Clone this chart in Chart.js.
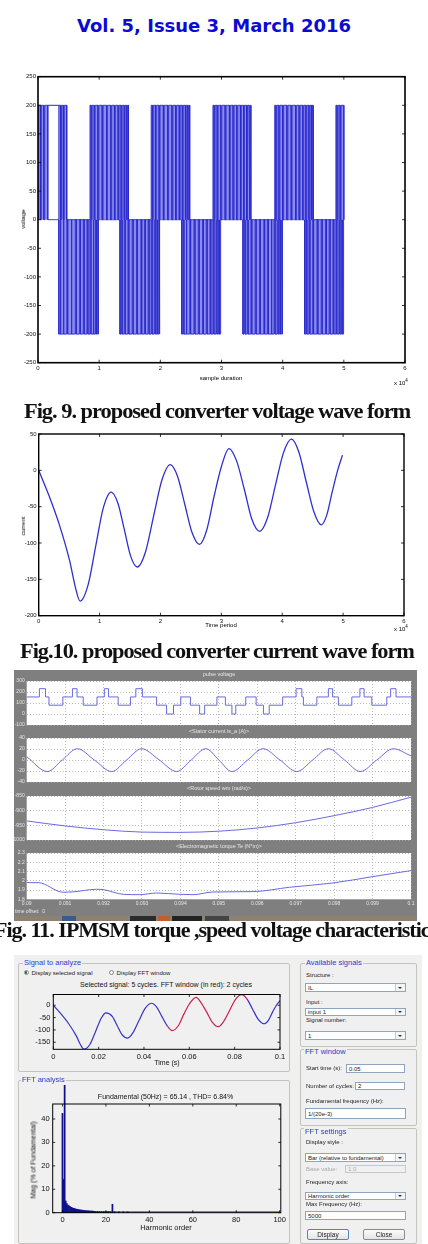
<!DOCTYPE html>
<html>
<head>
<meta charset="utf-8">
<script src="https://cdn.jsdelivr.net/npm/chart.js@4.4.1/dist/chart.umd.min.js"></script>
<style>
  body { margin: 0; width: 428px; height: 1244px; position: relative; background: #fff; overflow: hidden; font-family: "Liberation Sans", Arial, sans-serif; }
  .box { position: absolute; }
  .t { position: absolute; white-space: nowrap; line-height: 1; }
  .c { transform: translate(-50%, -50%); }
  .rot { transform: translate(-50%, -50%) rotate(-90deg); }
  .cap { position: absolute; white-space: nowrap; font-family: "Liberation Serif", serif; font-weight: bold; font-size: 22px; line-height: 22px; letter-spacing: -1px; transform-origin: 0 0; color: #111; }
  .grp { position: absolute; border: 1px solid #c4c4bc; border-radius: 2px; }
  .lg { position: absolute; background: #f0f0f0; color: #2a3cc8; font-size: 7.5px; line-height: 8px; padding: 0 1px; white-space: nowrap; }
  .lbl { position: absolute; font-size: 6px; line-height: 6px; color: #222; white-space: nowrap; transform: translateY(-50%); }
  .sel, .inp { position: absolute; background: #fff; border: 1px solid #8ea4bf; font-size: 6px; color: #222; box-sizing: border-box; padding-left: 2px; white-space: nowrap; display: flex; align-items: center; }
  .sel::after { content: ""; position: absolute; right: 0; top: 0; bottom: 0; width: 9px; background: #f4f4f4; border-left: 1px solid #ccc; }
  .arr { position: absolute; right: 3px; top: 50%; margin-top: -1px; width: 0; height: 0; border-left: 2px solid transparent; border-right: 2px solid transparent; border-top: 2px solid #333; z-index: 2; }
  .btn { position: absolute; background: linear-gradient(#fbfbfb, #e4e4e4); border: 1px solid #8a8a8a; border-radius: 2px; font-size: 6.5px; color: #222; box-sizing: border-box; display: flex; align-items: center; justify-content: center; }
</style>
</head>
<body>

<div class="t" style="left:0;width:428px;top:17px;text-align:center;font-family:'DejaVu Sans',sans-serif;font-weight:bold;font-size:18px;line-height:18px;color:#0a0ad2;">Vol. 5, Issue 3, March 2016</div>

<!-- Fig. 9 -->
<div class="box" style="left:0;top:60px;width:428px;height:332px;"><canvas id="voltageChart"></canvas></div>
<div class="t rot" style="left:23px;top:219px;font-size:6px;">voltage</div>
<div class="t c" style="left:221px;top:378px;font-size:6px;">sample duration</div>
<div class="t" style="left:394px;top:379px;font-size:6px;">x 10<sup style="font-size:4.5px;vertical-align:3px;">4</sup></div>
<div class="cap" data-w="386" style="left:24px;top:400px;">Fig. 9. proposed converter voltage wave form</div>

<!-- Fig. 10 -->
<div class="box" style="left:0;top:420px;width:428px;height:220px;"><canvas id="currentChart"></canvas></div>
<div class="t rot" style="left:23px;top:526px;font-size:6px;">current</div>
<div class="t c" style="left:221px;top:625px;font-size:6px;">Time period</div>
<div class="t" style="left:394px;top:625px;font-size:6px;">x 10<sup style="font-size:4.5px;vertical-align:3px;">4</sup></div>
<div class="cap" data-w="394" style="left:20px;top:640px;">Fig.10. proposed converter current wave form</div>

<!-- Fig. 11 scope -->
<div class="box" style="left:14px;top:670px;width:403px;height:249px;background:#7f7f7f;"></div>
<div class="box" style="left:14px;top:916px;width:403px;height:5px;background:#8d8272;"></div>
<div class="box" style="left:62px;top:916px;width:14px;height:5px;background:#3a5a8c;"></div>
<div class="box" style="left:130px;top:916px;width:26px;height:5px;background:#2b2b2b;"></div>
<div class="box" style="left:158px;top:916px;width:12px;height:5px;background:#c06030;"></div>
<div class="box" style="left:172px;top:916px;width:30px;height:5px;background:#222;"></div>
<div class="box" style="left:205px;top:916px;width:24px;height:5px;background:#444;"></div>
<div class="t c" style="left:219px;top:675px;font-size:5.5px;color:#e6e6e6;">pulse voltage</div>
<div class="t c" style="left:219px;top:731.5px;font-size:5.5px;color:#e6e6e6;">&lt;Stator current is_a (A)&gt;</div>
<div class="t c" style="left:219px;top:789px;font-size:5.5px;color:#e6e6e6;">&lt;Rotor speed wm (rad/s)&gt;</div>
<div class="t c" style="left:219px;top:846.5px;font-size:5.5px;color:#e6e6e6;">&lt;Electromagnetic torque Te (N*m)&gt;</div>
<div class="box" style="left:0;top:676px;width:420px;height:54px;"><canvas id="scope1"></canvas></div>
<div class="box" style="left:0;top:733px;width:420px;height:54px;"><canvas id="scope2"></canvas></div>
<div class="box" style="left:0;top:791px;width:420px;height:54px;"><canvas id="scope3"></canvas></div>
<div class="box" style="left:0;top:848px;width:420px;height:60px;"><canvas id="scope4"></canvas></div>
<div class="t" style="left:15px;top:909px;font-size:5px;color:#e6e6e6;">time offset:&nbsp; 0</div>
<div class="cap" data-w="443" style="left:-6px;top:919px;">Fig. 11. IPMSM torque ,speed voltage characteristics</div>

<!-- Fig. 12 powergui FFT -->
<div class="box" style="left:14px;top:955px;width:408px;height:289px;background:#f0f0f0;"></div>
<div class="grp" style="left:18px;top:963px;width:270px;height:107px;"></div>
<div class="lg" style="left:23px;top:958.5px;">Signal to analyze</div>
<div class="box" style="left:23.5px;top:970.2px;width:5px;height:5px;border-radius:50%;background:#fff;border:0.5px solid #888;box-sizing:border-box;"></div>
<div class="box" style="left:24.7px;top:971.4px;width:2.6px;height:2.6px;border-radius:50%;background:#2f6b3a;"></div>
<div class="lbl" style="left:31.5px;top:972.7px;">Display selected signal</div>
<div class="box" style="left:108.5px;top:970.2px;width:5px;height:5px;border-radius:50%;background:#fff;border:0.5px solid #888;box-sizing:border-box;"></div>
<div class="lbl" style="left:116.5px;top:972.7px;">Display FFT window</div>
<div class="t c" style="left:166px;top:984.3px;font-size:7px;color:#111;">Selected signal: 5 cycles. FFT window (in red): 2 cycles</div>
<div class="box" style="left:18px;top:987px;width:271px;height:80px;"><canvas id="signalChart"></canvas></div>
<div class="t c" style="left:167px;top:1062px;font-size:7px;color:#111;">Time (s)</div>

<div class="grp" style="left:18px;top:1080px;width:270px;height:162px;"></div>
<div class="lg" style="left:21px;top:1076px;">FFT analysis</div>
<div class="t c" style="left:165.5px;top:1096px;font-size:7px;color:#111;">Fundamental (50Hz) = 65.14 , THD= 6.84%</div>
<div class="box" style="left:18px;top:1085px;width:271px;height:155px;"><canvas id="fftChart"></canvas></div>
<div class="t rot" style="left:32.5px;top:1160px;font-size:7px;color:#111;">Mag (% of Fundamental)</div>
<div class="t c" style="left:166px;top:1227.5px;font-size:7.5px;color:#111;">Harmonic order</div>

<div class="grp" style="left:300px;top:963px;width:115px;height:82px;"></div>
<div class="lg" style="left:305px;top:958.5px;">Available signals</div>
<div class="lbl" style="left:306px;top:975px;">Structure :</div>
<div class="sel" style="left:305px;top:983px;width:101px;height:9px;">IL<span class="arr"></span></div>
<div class="lbl" style="left:306px;top:1001.7px;">Input :</div>
<div class="sel" style="left:305px;top:1008px;width:101px;height:8px;">input 1<span class="arr"></span></div>
<div class="lbl" style="left:306px;top:1020px;">Signal number:</div>
<div class="sel" style="left:305px;top:1031px;width:101px;height:9px;">1<span class="arr"></span></div>

<div class="grp" style="left:300px;top:1049px;width:115px;height:75px;"></div>
<div class="lg" style="left:304px;top:1047.5px;">FFT window</div>
<div class="lbl" style="left:306px;top:1068px;">Start time (s):</div>
<div class="inp" style="left:346px;top:1064px;width:59px;height:9px;">0.05</div>
<div class="lbl" style="left:306px;top:1086px;">Number of cycles:</div>
<div class="inp" style="left:355px;top:1082px;width:50px;height:8px;">2</div>
<div class="lbl" style="left:306px;top:1100.7px;">Fundamental frequency (Hz):</div>
<div class="inp" style="left:305px;top:1108px;width:101px;height:11px;">1/(20e-3)</div>

<div class="grp" style="left:300px;top:1128px;width:115px;height:114px;"></div>
<div class="lg" style="left:304px;top:1127.5px;">FFT settings</div>
<div class="lbl" style="left:306px;top:1141.7px;">Display style :</div>
<div class="sel" style="left:305px;top:1153px;width:101px;height:9px;">Bar (relative to fundamental)<span class="arr"></span></div>
<div class="lbl" style="left:306px;top:1169px;color:#a8a8a8;">Base value:</div>
<div class="inp" style="left:345px;top:1165px;width:61px;height:8px;background:#f0f0f0;border-color:#c8c8c8;color:#a8a8a8;">1.0</div>
<div class="lbl" style="left:306px;top:1181.7px;">Frequency axis:</div>
<div class="sel" style="left:305px;top:1192px;width:101px;height:8px;">Harmonic order<span class="arr"></span></div>
<div class="lbl" style="left:306px;top:1204px;">Max Frequency (Hz):</div>
<div class="inp" style="left:305px;top:1211px;width:101px;height:9px;">5000</div>
<div class="btn" style="left:307px;top:1229px;width:42px;height:11px;border-color:#5a7fc0;">Display</div>
<div class="btn" style="left:363px;top:1229px;width:42px;height:11px;">Close</div>

<script>
// ---- Fig. 9 voltage: switching edges [on, off], x in units of 10^4 samples
const voltageLevel = 200;
const voltagePosPulses = [
  [0.00, 0.04], [0.055, 0.095], [0.11, 0.16],
  [0.34, 0.37], [0.385, 0.415], [0.43, 0.47],
  [0.85, 0.87], [0.885, 0.92], [0.935, 0.98], [0.995, 1.05], [1.065, 1.12], [1.135, 1.19],
  [1.205, 1.25], [1.265, 1.31], [1.325, 1.36], [1.375, 1.41], [1.425, 1.45], [1.465, 1.48],
  [1.85, 1.87], [1.885, 1.92], [1.935, 1.98], [1.995, 2.05], [2.065, 2.12], [2.135, 2.19],
  [2.205, 2.25], [2.265, 2.31], [2.325, 2.36], [2.375, 2.41], [2.425, 2.45], [2.465, 2.48],
  [2.86, 2.88], [2.895, 2.93], [2.945, 2.99], [3.005, 3.06], [3.075, 3.13], [3.145, 3.19],
  [3.205, 3.25], [3.265, 3.31], [3.325, 3.36], [3.375, 3.41], [3.425, 3.45], [3.465, 3.48],
  [3.87, 3.89], [3.905, 3.94], [3.955, 4.00], [4.015, 4.07], [4.085, 4.14], [4.155, 4.21],
  [4.225, 4.27], [4.285, 4.33], [4.345, 4.38], [4.395, 4.43], [4.445, 4.47], [4.485, 4.50],
  [4.87, 4.89], [4.905, 4.94], [4.955, 5.00]
];
const voltageNegPulses = [
  [0.34, 0.36], [0.375, 0.41], [0.425, 0.47], [0.485, 0.54], [0.555, 0.61], [0.625, 0.68],
  [0.695, 0.74], [0.755, 0.80], [0.815, 0.85], [0.865, 0.90], [0.915, 0.94], [0.955, 0.975], [0.985, 0.99],
  [1.34, 1.36], [1.375, 1.41], [1.425, 1.47], [1.485, 1.54], [1.555, 1.61], [1.625, 1.68],
  [1.695, 1.74], [1.755, 1.80], [1.815, 1.85], [1.865, 1.90], [1.915, 1.94], [1.955, 1.975], [1.985, 1.99],
  [2.35, 2.37], [2.385, 2.42], [2.435, 2.48], [2.495, 2.55], [2.565, 2.62], [2.635, 2.69],
  [2.705, 2.75], [2.765, 2.81], [2.825, 2.86], [2.875, 2.91], [2.925, 2.95], [2.965, 2.98], [2.985, 2.99],
  [3.35, 3.37], [3.385, 3.42], [3.435, 3.48], [3.495, 3.55], [3.565, 3.62], [3.635, 3.69],
  [3.705, 3.75], [3.765, 3.81], [3.825, 3.86], [3.875, 3.91], [3.925, 3.95], [3.965, 3.985], [3.99, 4.00],
  [4.36, 4.38], [4.395, 4.43], [4.445, 4.49], [4.505, 4.56], [4.575, 4.63], [4.645, 4.70],
  [4.715, 4.76], [4.775, 4.82], [4.835, 4.87], [4.885, 4.92], [4.935, 4.96], [4.975, 4.99], [4.995, 5.00]
];
const voltageHoldX = [0.16, 0.34];
const voltageHoldY = [200, 200];
const voltageTicksX = [0, 1, 2, 3, 4, 5, 6];
const voltageTicksY = [-250, -200, -150, -100, -50, 0, 50, 100, 150, 200, 250];

// ---- Fig. 10 current (x in units of 10^4)
const currentTime = [0, 0.17, 0.34, 0.51, 0.60, 0.68,
  0.81, 0.935, 1.06, 1.19,
  1.30, 1.405, 1.51, 1.62,
  1.755, 1.89, 2.025, 2.16,
  2.28, 2.40, 2.52, 2.64,
  2.76, 2.88, 3.00, 3.125,
  3.25, 3.38, 3.50, 3.63,
  3.76, 3.89, 4.02, 4.15,
  4.27, 4.395, 4.52, 4.64,
  4.73, 4.82, 4.91, 4.99];
const currentValue = [0, -35, -75, -125, -160, -180,
  -158, -105, -52, -30,
  -45, -81, -118, -133,
  -112, -62, -13, 8,
  -8, -47, -86, -102,
  -82, -36, 5, 30,
  13, -27, -67, -84,
  -65, -20, 24, 43,
  26, -16, -57, -75,
  -62, -30, 0, 21];
const currentTicksX = [0, 1, 2, 3, 4, 5, 6];
const currentTicksY = [-200, -150, -100, -50, 0, 50];

// ---- Fig. 11 scope traces (time in s)
const scopeTicksX = [0.09, 0.091, 0.092, 0.093, 0.094, 0.095, 0.096, 0.097, 0.098, 0.099, 0.1];
const pulseTime = [0.0900, 0.09033, 0.09049, 0.09058, 0.09094, 0.09119, 0.09131, 0.09147, 0.09183, 0.09202, 0.09213,
  0.09238, 0.09270, 0.09284, 0.09301, 0.09338, 0.09364, 0.09382, 0.09401, 0.09426, 0.09450, 0.09463, 0.09495,
  0.09517, 0.09534, 0.09544, 0.09570, 0.09597, 0.09616, 0.09631, 0.09666, 0.09701, 0.09716, 0.09720, 0.09755,
  0.09785, 0.09796, 0.09811, 0.09846, 0.09867, 0.09878, 0.09898, 0.09937, 0.09947, 0.09961, 0.1000];
const pulseVolt = [155, 230, 155, 80, 155, 230, 155, 80, 155, 230, 155,
  80, 155, 230, 155, 80, 0, 80, 155, 80, 0, 80, 155,
  80, 0, 80, 155, 80, 0, 80, 155, 230, 155, 80, 155,
  230, 155, 80, 155, 230, 155, 80, 155, 230, 155, 155];
const pulseTicksY = [-100, 0, 100, 200, 300];
const statorTime = [0.0900, 0.090535, 0.090925, 0.091315, 0.09176, 0.09221, 0.0926, 0.09299, 0.09345, 0.0939,
  0.09428, 0.09466, 0.0950, 0.09534, 0.09575, 0.09615, 0.09659, 0.09703, 0.09744, 0.09785, 0.09827, 0.09868,
  0.09911, 0.09954, 0.1000];
const statorCurrent = [6, -21, 0, 20.5, 0, -21, 0, 20.5, 0, -21,
  0, 20.5, 0, -21, 0, 20.5, 0, -21, 0, 20.5, 0, -21,
  0, 20.5, 7.5];
const statorTicksY = [-40, -20, 0, 20, 40];
const speedTime = [0.090, 0.091, 0.092, 0.093, 0.094, 0.095, 0.096, 0.097, 0.098, 0.099, 0.100];
const rotorSpeed = [-935, -952, -965, -973, -974, -970, -959, -941, -917, -889, -854];
const speedTicksY = [-1000, -950, -900, -850];
const torqueTime = [0.0900, 0.0903, 0.090952, 0.0912, 0.091818, 0.0920, 0.092511, 0.092944, 0.093377, 0.093983,
  0.094329, 0.094848, 0.095887, 0.096840, 0.097965, 0.099004, 0.1000];
const torque = [1.98, 1.98, 1.876, 1.88, 1.908, 1.904, 1.854, 1.85, 1.868, 1.854,
  1.85, 1.879, 1.883, 1.93, 1.976, 2.045, 2.11];
const torqueTicksY = [1.8, 1.9, 2, 2.1, 2.2, 2.3];

// ---- Fig. 12 FFT tool: selected signal (s) and harmonic spectrum
const signalTime = [0, 0.0034, 0.0068, 0.0102, 0.012, 0.0135,
  0.0162, 0.0187, 0.0212, 0.0232,
  0.026, 0.0281, 0.0302, 0.0328,
  0.0351, 0.0378, 0.0405, 0.0434,
  0.0456, 0.048, 0.0504, 0.0525,
  0.0552, 0.0576, 0.06, 0.063,
  0.065, 0.0676, 0.07, 0.0728,
  0.0752, 0.0778, 0.0804, 0.0831,
  0.0854, 0.0879, 0.0904, 0.0931,
  0.0948, 0.0966, 0.0984, 0.1];
const signalValue = [0, -35, -75, -125, -160, -178,
  -158, -105, -52, -31,
  -45, -81, -118, -133,
  -112, -62, -13, 8,
  -8, -47, -86, -103,
  -82, -36, 5, 32,
  13, -27, -67, -87,
  -65, -20, 24, 43,
  26, -16, -57, -75,
  -62, -30, 0, 19];
const fftWindow = [0.0504, 0.0854];
const signalTicksX = [0, 0.02, 0.04, 0.06, 0.08, 0.1];
const signalTicksY = [-150, -100, -50, 0];
const harmonicOrder = [0, 0.5, 1, 1.5, 2, 2.5, 3, 3.5, 4, 4.5, 5, 5.5, 6, 6.5, 7, 7.5, 8, 8.5, 9, 9.5,
  10, 10.5, 11, 11.5, 12, 12.5, 13, 13.5, 14, 14.5, 15, 16, 17, 18, 19, 20, 21, 22, 23, 24, 26, 28, 30];
const harmonicMag = [42.4, 14.2, 100, 5.0, 3.9, 3.3, 2.9, 2.6, 2.3, 2.1, 1.9, 1.8, 1.6, 1.5, 1.4, 1.3, 1.2, 1.15, 1.1, 1.0,
  0.95, 0.9, 0.85, 0.82, 0.8, 0.75, 0.7, 0.68, 0.65, 0.62, 0.6, 0.55, 0.52, 0.5, 0.48, 0.45, 0.43, 0.42, 3.6, 0.4, 0.38, 0.35, 0.33];
const residualOrder = [0, 100];
const residualMag = [0.3, 0.3];
const fftTicksX = [0, 20, 40, 60, 80, 100];
const fftTicksY = [0, 10, 20, 30, 40];

// ---------- helpers
const matlabBox = {
  id: 'matlabBox',
  afterDraw(chart, args, opts) {
    const { ctx, chartArea: a, scales } = chart;
    const len = opts.tick || 3;
    ctx.save();
    ctx.strokeStyle = '#000';
    ctx.lineWidth = opts.width || 1;
    ctx.strokeRect(a.left, a.top, a.right - a.left, a.bottom - a.top);
    ctx.lineWidth = 0.8;
    ctx.beginPath();
    scales.x.ticks.forEach(t => {
      const px = scales.x.getPixelForValue(t.value);
      ctx.moveTo(px, a.bottom); ctx.lineTo(px, a.bottom - len);
      ctx.moveTo(px, a.top); ctx.lineTo(px, a.top + len);
    });
    scales.y.ticks.forEach(t => {
      const py = scales.y.getPixelForValue(t.value);
      ctx.moveTo(a.left, py); ctx.lineTo(a.left + len, py);
      ctx.moveTo(a.right, py); ctx.lineTo(a.right - len, py);
    });
    ctx.stroke();
    ctx.restore();
  }
};

const whitePlot = {
  id: 'whitePlot',
  beforeDraw(chart) {
    const { ctx, chartArea: a } = chart;
    ctx.save();
    ctx.fillStyle = '#fff';
    ctx.fillRect(a.left, a.top, a.right - a.left, a.bottom - a.top);
    ctx.restore();
  }
};

function baseOptions(leftW, bottomH, top, right) {
  return {
    responsive: true,
    maintainAspectRatio: false,
    animation: false,
    devicePixelRatio: 1,
    events: [],
    layout: { padding: { top: top, right: right, left: 0, bottom: 0 } },
    plugins: { legend: { display: false }, tooltip: { enabled: false }, title: { display: false } },
    scales: {
      x: { type: 'linear', offset: false, afterFit: s => { s.height = bottomH; } },
      y: { type: 'linear', afterFit: s => { s.width = leftW; } }
    }
  };
}

// fixed tick positions taken from the tick arrays above
function useTicks(list) {
  return s => { s.ticks = list.map(v => ({ value: v })); };
}

function pulseTrace(pairs, level) {
  const pts = [];
  pairs.forEach(([a, b]) => {
    pts.push({ x: a, y: 0 }, { x: a, y: level }, { x: b, y: level }, { x: b, y: 0 });
  });
  return pts;
}

function zip(xs, ys) {
  return xs.map((x, i) => ({ x: x, y: ys[i] }));
}

const tinyFont = { family: 'Liberation Sans', size: 6 };
const guiFont = { family: 'Liberation Sans', size: 7.5 };
const scopeFont = { family: 'Liberation Sans', size: 5 };
const noGrid = { display: false, drawTicks: false };

// ---------- Fig. 9
(function() {
  const o = baseOptions(38, 29.3, 16.7, 23);
  Object.assign(o.scales.x, {
    min: 0, max: 6, afterBuildTicks: useTicks(voltageTicksX),
    grid: noGrid, border: { display: false },
    ticks: { padding: 2, color: '#111', font: tinyFont, maxRotation: 0, autoSkip: false }
  });
  Object.assign(o.scales.y, {
    min: -250, max: 250, afterBuildTicks: useTicks(voltageTicksY),
    grid: noGrid, border: { display: false },
    ticks: { padding: 2, color: '#111', font: tinyFont, autoSkip: false }
  });
  o.plugins.matlabBox = { width: 1.6, tick: 3 };
  new Chart(document.getElementById('voltageChart'), {
    type: 'line',
    data: {
      datasets: [
        { data: pulseTrace(voltagePosPulses, voltageLevel), borderColor: '#2b2bcc', borderWidth: 0.9, pointRadius: 0,
          fill: 'origin', backgroundColor: 'rgba(128,128,236,0.9)', tension: 0 },
        { data: pulseTrace(voltageNegPulses, -voltageLevel), borderColor: '#2b2bcc', borderWidth: 0.9, pointRadius: 0,
          fill: 'origin', backgroundColor: 'rgba(128,128,236,0.9)', tension: 0 },
        { data: zip(voltageHoldX, voltageHoldY), borderColor: '#2b2bcc', borderWidth: 1, pointRadius: 0, fill: false }
      ]
    },
    options: o,
    plugins: [matlabBox]
  });
})();

// ---------- Fig. 10
(function() {
  const o = baseOptions(38.7, 24.3, 14, 24);
  Object.assign(o.scales.x, {
    min: 0, max: 6, afterBuildTicks: useTicks(currentTicksX),
    grid: noGrid, border: { display: false },
    ticks: { padding: 2, color: '#111', font: tinyFont, maxRotation: 0, autoSkip: false }
  });
  Object.assign(o.scales.y, {
    min: -200, max: 50, afterBuildTicks: useTicks(currentTicksY),
    grid: noGrid, border: { display: false },
    ticks: { padding: 2, color: '#111', font: tinyFont, autoSkip: false }
  });
  o.plugins.matlabBox = { width: 1.4, tick: 3 };
  new Chart(document.getElementById('currentChart'), {
    type: 'line',
    data: {
      datasets: [{ data: zip(currentTime, currentValue), borderColor: '#2f2fd0', borderWidth: 1.3, pointRadius: 0,
        cubicInterpolationMode: 'monotone', fill: false }]
    },
    options: o,
    plugins: [matlabBox]
  });
})();

// ---------- Fig. 11 scope panels
function scopePanel(id, xs, ys, yMin, yMax, yTicks, showX, stepped, bottomH) {
  const o = baseOptions(26.7, bottomH, 4, 9);
  Object.assign(o.scales.x, {
    min: 0.09, max: 0.1, afterBuildTicks: useTicks(scopeTicksX),
    grid: { display: true, drawTicks: false, color: '#a8a8a8', lineWidth: 0.8 },
    border: { display: false, dash: [1, 2] },
    ticks: { display: showX, padding: 1.5, color: '#e6e6e6', font: scopeFont, maxRotation: 0, autoSkip: false,
      callback: v => String(Number(v.toFixed(3))) }
  });
  Object.assign(o.scales.y, {
    min: yMin, max: yMax, afterBuildTicks: useTicks(yTicks),
    grid: { display: true, drawTicks: false, color: '#a8a8a8', lineWidth: 0.8 },
    border: { display: false, dash: [1, 2] },
    ticks: { padding: 2, color: '#e6e6e6', font: scopeFont, autoSkip: false,
      callback: v => String(Number(v.toFixed(1))) }
  });
  new Chart(document.getElementById(id), {
    type: 'line',
    data: {
      datasets: [{ data: zip(xs, ys), borderColor: '#6a6ae0', borderWidth: 1, pointRadius: 0, fill: false,
        stepped: stepped, cubicInterpolationMode: stepped ? 'default' : 'monotone' }]
    },
    options: o,
    plugins: [whitePlot]
  });
}
scopePanel('scope1', pulseTime, pulseVolt, -100, 300, pulseTicksY, false, true, 4);
scopePanel('scope2', statorTime, statorCurrent, -40, 40, statorTicksY, false, false, 3.7);
scopePanel('scope3', speedTime, rotorSpeed, -1000, -850, speedTicksY, false, false, 4.3);
scopePanel('scope4', torqueTime, torque, 1.8, 2.3, torqueTicksY, true, false, 8.7);

// ---------- Fig. 12 selected signal
(function() {
  const o = baseOptions(35.3, 17.7, 5.3, 9);
  Object.assign(o.scales.x, {
    min: 0, max: 0.1, afterBuildTicks: useTicks(signalTicksX),
    grid: noGrid, border: { display: false },
    ticks: { padding: 3, color: '#111', font: guiFont, maxRotation: 0, autoSkip: false,
      callback: v => String(Number(v.toFixed(2))) }
  });
  Object.assign(o.scales.y, {
    min: -178.5, max: 43.5, afterBuildTicks: useTicks(signalTicksY),
    grid: noGrid, border: { display: false },
    ticks: { padding: 3, color: '#111', font: guiFont, autoSkip: false }
  });
  o.plugins.matlabBox = { width: 1, tick: 2.5 };
  new Chart(document.getElementById('signalChart'), {
    type: 'line',
    data: {
      datasets: [{
        data: zip(signalTime, signalValue), borderWidth: 1.2, pointRadius: 0, fill: false,
        cubicInterpolationMode: 'monotone', borderColor: '#3434c4',
        segment: {
          borderColor: c => (c.p0.parsed.x >= fftWindow[0] && c.p1.parsed.x <= fftWindow[1]) ? '#c8234e' : '#3434c4'
        }
      }]
    },
    options: o,
    plugins: [matlabBox]
  });
})();

// ---------- Fig. 12 FFT bars
(function() {
  const o = baseOptions(34.7, 27.3, 19, 7.3);
  Object.assign(o.scales.x, {
    min: -4.5, max: 100.5, offset: false, afterBuildTicks: useTicks(fftTicksX),
    grid: { display: false, drawTicks: false, offset: false }, border: { display: false },
    ticks: { padding: 3, color: '#111', font: guiFont, maxRotation: 0, autoSkip: false }
  });
  Object.assign(o.scales.y, {
    min: 0, max: 46.4, afterBuildTicks: useTicks(fftTicksY),
    grid: noGrid, border: { display: false },
    ticks: { padding: 3, color: '#111', font: guiFont, autoSkip: false }
  });
  o.plugins.matlabBox = { width: 1, tick: 2.5 };
  new Chart(document.getElementById('fftChart'), {
    type: 'bar',
    data: {
      datasets: [
        { type: 'bar', data: zip(harmonicOrder, harmonicMag), backgroundColor: '#10108c', borderWidth: 0,
          barPercentage: 1, categoryPercentage: 1, clip: false },
        { type: 'line', data: zip(residualOrder, residualMag), borderColor: '#10108c', borderWidth: 1.2,
          pointRadius: 0, fill: false }
      ]
    },
    options: o,
    plugins: [matlabBox]
  });
})();

// ---------- fit captions to their printed width
document.querySelectorAll('.cap').forEach(el => {
  const target = parseFloat(el.dataset.w);
  el.style.transform = 'scaleX(' + (target / el.scrollWidth) + ')';
});
</script>
</body>
</html>
